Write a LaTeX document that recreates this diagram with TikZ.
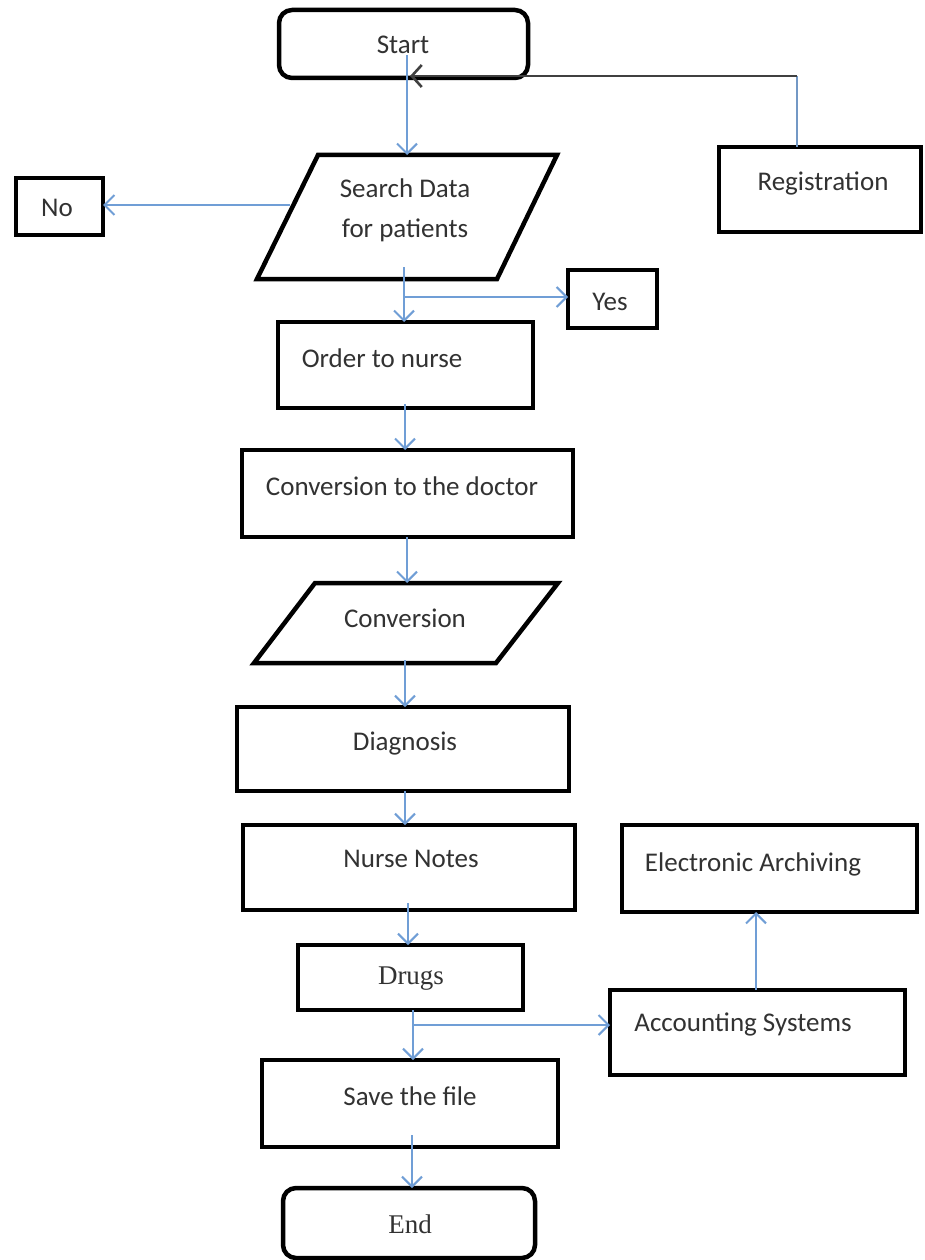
\documentclass[tikz,border=0pt]{standalone}
\usepackage{fontspec}
\setmainfont{Carlito}
\newfontfamily\serifface{Liberation Serif}
\usetikzlibrary{arrows.meta}
\definecolor{arrblue}{RGB}{112,158,214}
\definecolor{txtgray}{RGB}{50,50,50}
\begin{document}
\begin{tikzpicture}[x=1pt,y=-1pt,
  box/.style={draw=black, line width=4.5pt, inner sep=0pt, outer sep=0pt, fill=white},
  rbox/.style={box, rounded corners=13pt},
  parashape/.style={draw=black, line width=4.5pt, line join=miter, fill=white},
  lbl/.style={text=txtgray, font=\fontsize{27}{40}\selectfont, inner sep=0pt, align=center},
  slbl/.style={lbl, font=\serifface\fontsize{27}{40}\selectfont},
  arr/.style={draw=arrblue, line width=2.2pt, -{Straight Barb[length=10pt,width=20pt,line width=2pt]}},
  link/.style={draw=arrblue!80!gray, line width=1.6pt},
  darr/.style={draw=black!75, line width=2.4pt, -{Straight Barb[length=10pt,width=22pt,line width=2.6pt]}}
]
\useasboundingbox[fill=white] (0,0) rectangle (924,1260);

% parallelogram corners
\coordinate (s-tl) at (318,155); \coordinate (s-tr) at (557,155);
\coordinate (s-br) at (497,279); \coordinate (s-bl) at (257,279);
\coordinate (c-tl) at (315,583); \coordinate (c-tr) at (558,583);
\coordinate (c-br) at (496,663); \coordinate (c-bl) at (254,663);

% boxes
\node[rbox, minimum width=249, minimum height=68] (start) at (403.5,44) {};
\draw[parashape] (s-tl) -- (s-tr) -- (s-br) -- (s-bl) -- cycle;
\node[box, minimum width=87, minimum height=57] (no) at (59.5,206.5) {};
\node[box, minimum width=202, minimum height=85] (reg) at (820,189.5) {};
\node[box, minimum width=89, minimum height=58] (yes) at (612.5,299) {};
\node[box, minimum width=255, minimum height=86] (order) at (405.5,365) {};
\node[box, minimum width=331, minimum height=87] (convdoc) at (407.5,493.5) {};
\draw[parashape] (c-tl) -- (c-tr) -- (c-br) -- (c-bl) -- cycle;
\node[box, minimum width=332, minimum height=84] (diag) at (403,749) {};
\node[box, minimum width=332, minimum height=85] (nurse) at (409,867.5) {};
\node[box, minimum width=225, minimum height=65] (drugs) at (410.5,977.5) {};
\node[box, minimum width=295, minimum height=87] (ea) at (769.5,868.5) {};
\node[box, minimum width=295, minimum height=85] (acc) at (757.5,1032.5) {};
\node[box, minimum width=296, minimum height=87] (save) at (410,1103.5) {};
\node[rbox, minimum width=252, minimum height=70] (end) at (409,1223) {};

% texts
\node[lbl] (tstart) at (403,45) {Start};
\node[lbl] (tsearch) at (405,210) {Search Data\\for patients};
\node[lbl] (tno) at (57,208) {No};
\node[lbl] (treg) at (823,183) {Registration};
\node[lbl] (tyes) at (610,302) {Yes};
\node[lbl] (torder) at (382,358) {Order to nurse};
\node[lbl] (tconvdoc) at (402,486) {Conversion to the doctor};
\node[lbl] (tconv) at (405,618) {Conversion};
\node[lbl] (tdiag) at (405,744) {Diagnosis};
\node[lbl] (tnurse) at (411,859) {Nurse Notes};
\node[slbl] (tdrugs) at (411,979) {Drugs};
\node[lbl] (tea) at (753,864) {Electronic Archiving};
\node[lbl] (tacc) at (743,1024) {Accounting Systems};
\node[lbl] (tsave) at (410,1096) {Save the file};
\node[slbl] (tend) at (410,1224) {End};

% connector coordinates
\coordinate (x1) at (407,0);
\coordinate (x2) at (404,0);
\coordinate (x3) at (405,0);
\coordinate (x4) at (407,0);
\coordinate (x5) at (408,0);
\coordinate (x6) at (413,0);
\coordinate (x7) at (412,0);
\coordinate (xe) at (756,0);
\coordinate (sst) at (407,55);
\coordinate (sout) at (404,267);
\coordinate (ybr) at (404,297);
\coordinate (cout) at (405,660);
\coordinate (abr) at (413,1025);
\coordinate (nob) at (290,205);
\coordinate (regc) at (797,76);
\coordinate (rtip) at (410,76);

% connectors
\draw[arr] (sst) -- (s-tl -| x1);
\draw[arr] (nob) -- (nob -| no.east);
\draw[arr] (sout) -- (order.north -| sout);
\draw[arr] (ybr) -- (ybr -| yes.west);
\draw[arr] ([yshift=4pt]order.south -| x3) -- (convdoc.north -| x3);
\draw[arr] (convdoc.south -| x4) -- (c-tl -| x4);
\draw[arr] (cout) -- (diag.north -| cout);
\draw[arr] (diag.south -| x3) -- (nurse.north -| x3);
\draw[arr] ([yshift=7pt]nurse.south -| x5) -- (drugs.north -| x5);
\draw[arr] (drugs.south -| x6) -- (save.north -| x6);
\draw[arr] (abr) -- (abr -| acc.west);
\draw[arr] (acc.north -| xe) -- (ea.south -| xe);
\draw[arr] ([yshift=12pt]save.south -| x7) -- (end.north -| x7);
\draw[link] (reg.north -| regc) -- (regc);
\draw[darr] (regc) -- (rtip);
\end{tikzpicture}
\end{document}
